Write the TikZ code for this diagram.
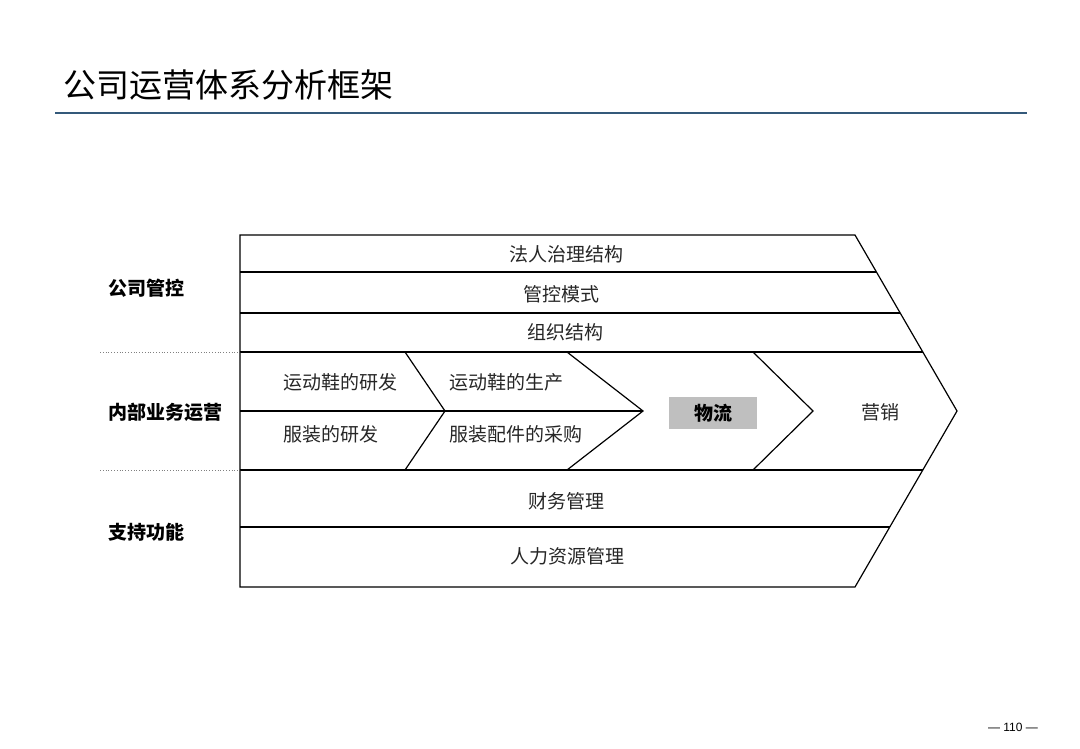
\documentclass[tikz,border=0pt]{standalone}
\usepackage{fontspec}
\setmainfont{Liberation Sans}
\newfontfamily\cjk{Noto Sans CJK SC}
\definecolor{rulecol}{HTML}{34597A}
\definecolor{boxgray}{HTML}{BFBFBF}
\definecolor{txt}{HTML}{262626}
\begin{document}
\begin{tikzpicture}[x=1pt,y=-1pt,
  outline/.style={line width=1.2pt,black},
  rowtext/.style={font=\cjk\fontsize{19}{22}\selectfont,text=txt,inner sep=0pt},
  sidelabel/.style={font=\cjk\bfseries\fontsize{19}{22}\selectfont,text=black,anchor=west,inner sep=0pt},
  sep/.style={line width=0.8pt,gray,dotted}]
\useasboundingbox (0,0) rectangle (1080,748);
% title
\node[font=\cjk\fontsize{33}{38}\selectfont,anchor=west,inner sep=0pt] (title) at (63,85) {公司运营体系分析框架};
\coordinate (rl) at (55,113);
\coordinate (rr) at (1027,113);
\draw[rulecol,line width=1.4pt] (rl) -- (rr);
% outline
\coordinate (tl) at (240,235);
\coordinate (tr) at (855,235);
\coordinate (tip) at (957,411);
\coordinate (br) at (855,587);
\coordinate (bl) at (240,587);
\draw[outline] (tl) -- (tr) -- (tip) -- (br) -- (bl) -- cycle;
% row lines
\draw[outline] (240,272) -- (876.4,272);
\draw[outline] (240,313) -- (900.2,313);
\draw[outline] (240,352) -- (922.8,352);
\draw[outline] (240,470) -- (922.8,470);
\draw[outline] (240,527) -- (889.8,527);
\draw[outline] (240,411) -- (643,411);
% chevrons
\draw[outline] (405,352) -- (445,411) -- (405,470);
\draw[outline] (567,352) -- (643,411) -- (567,470);
\draw[outline] (753,352) -- (813,411) -- (753,470);
% dotted separators
\draw[sep] (100,352) -- (240,352);
\draw[sep] (100,470) -- (240,470);
% row texts
\node[rowtext] (r1) at (566,254) {法人治理结构};
\node[rowtext] (r2) at (561,294) {管控模式};
\node[rowtext] (r3) at (565,332) {组织结构};
\node[rowtext] (r4) at (566,501) {财务管理};
\node[rowtext] (r5) at (567,556) {人力资源管理};
% middle texts
\node[rowtext,anchor=west] (m1) at (283,382) {运动鞋的研发};
\node[rowtext,anchor=west] (m2) at (283,434) {服装的研发};
\node[rowtext,anchor=west] (m3) at (449,382) {运动鞋的生产};
\node[rowtext,anchor=west] (m4) at (449,434) {服装配件的采购};
\node[fill=boxgray,minimum width=88pt,minimum height=32pt,inner sep=0pt,
      font=\cjk\bfseries\fontsize{19}{22}\selectfont] (wl) at (713,413) {物流};
\node[rowtext] (yx) at (880,412) {营销};
% side labels
\node[sidelabel] (s1) at (108,288) {公司管控};
\node[sidelabel] (s2) at (108,412) {内部业务运营};
\node[sidelabel] (s3) at (108,532) {支持功能};
% page number
\node[font=\fontsize{12}{14}\selectfont,inner sep=0pt] (pg) at (1013,727) {— 110 —};
\end{tikzpicture}
\end{document}
